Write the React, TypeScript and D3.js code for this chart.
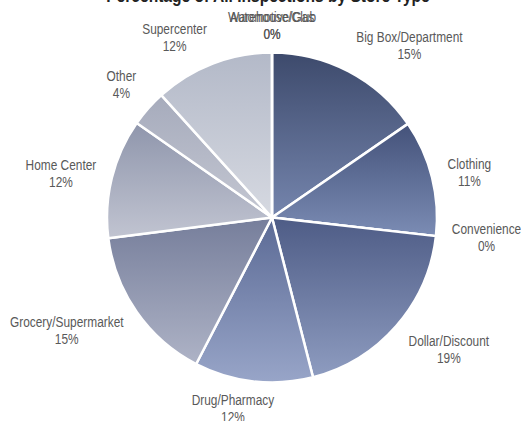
import React, { useMemo } from "react";
import * as d3 from "d3";

const title = "Percentage of All Inspections by Store Type";
const categories = [
  "Automotive/Gas",
  "Big Box/Department",
  "Clothing",
  "Convenience",
  "Dollar/Discount",
  "Drug/Pharmacy",
  "Grocery/Supermarket",
  "Home Center",
  "Other",
  "Supercenter",
  "Warehouse/Club",
];
const values = [0, 15.4, 11.4, 0, 19.2, 11.6, 15.4, 11.7, 3.6, 11.7, 0];
const topColors = ["#3d4a6c", "#3d4a6c", "#44527a", "#4b5a83", "#4e5c86", "#5b6a95", "#767e9b", "#8f96ac", "#a6abbc", "#b3b9c8", "#b3b9c8"];
const bottomColors = ["#7585ad", "#7585ad", "#7b8cb4", "#8494ba", "#8e9cc0", "#98a5c8", "#aeb3c6", "#c1c4d1", "#c4c7d2", "#d6d9e1", "#d6d9e1"];

const W = 521;
const H = 421;
const FONT = "'Liberation Sans', Arial, sans-serif";
const NARROW = 0.82;

function measure(text: string, size: number, weight = "normal"): number {
  const c = document.createElement("canvas").getContext("2d");
  if (!c) return text.length * size * 0.5 * NARROW;
  c.font = `${weight} ${size}px ${FONT}`;
  return c.measureText(text).width * NARROW;
}

export default function App() {
  const cx = 272;
  const cy = 217.5;
  const r = 165;
  const total = d3.sum(values);
  const pie = d3.pie<number>().sort(null).value((d) => d);
  const arcs = pie(values);
  const arc = d3.arc<d3.PieArcDatum<number>>().innerRadius(0).outerRadius(r);
  const fontSize = 14.5;
  const lineH = 17;

  const labels = useMemo(
    () =>
      arcs.map((a, i) => {
        const mid = (a.startAngle + a.endAngle) / 2;
        const s = Math.sin(mid);
        const c = Math.cos(mid);
        const ax = s * (r + 16);
        const ay = -c * (r + 10);
        const pct = `${Math.round((values[i] / total) * 100)}%`;
        const w = Math.max(measure(categories[i], fontSize), measure(pct, fontSize));
        const h = lineH * 2;
        const fx = Math.max(-1, Math.min(1, s * 4));
        const fy = -Math.sign(c) * Math.min(1, c * c * 2.3);
        return {
          x: ax + (fx * w) / 2,
          y: ay + (fy * h) / 2,
          name: categories[i],
          pct,
        };
      }),
    []
  );

  return (
    <svg
      width={W}
      height={H}
      style={{ position: "absolute", left: 0, top: 0, background: "#fff" }}
    >
      <defs>
        {values.map((_, i) => (
          <linearGradient key={i} id={`g${i}`} x1="0" y1="0" x2="0" y2="1">
            <stop offset="0%" stopColor={topColors[i]} />
            <stop offset="100%" stopColor={bottomColors[i]} />
          </linearGradient>
        ))}
      </defs>
      <g transform={`translate(268,2) scale(${NARROW},1)`}>
        <text
          x={0}
          y={0}
          textAnchor="middle"
          fontFamily={FONT}
          fontWeight="bold"
          fontSize={19}
          fill="#222"
        >
          {title}
        </text>
      </g>
      <g transform={`translate(${cx},${cy})`}>
        {arcs.map((a, i) => (
          <path
            key={i}
            d={arc(a) || ""}
            fill={`url(#g${i})`}
            stroke="#fff"
            strokeWidth={2.5}
            strokeLinejoin="round"
          />
        ))}
        {labels.map((l, i) => (
          <g key={i} transform={`translate(${l.x},${l.y}) scale(${NARROW},1)`}>
            <text
              x={0}
              y={0}
              textAnchor="middle"
              fontFamily={FONT}
              fontSize={fontSize}
              fill="#595959"
            >
              <tspan x={0} dy={-lineH / 2 + 5}>
                {l.name}
              </tspan>
              <tspan x={0} dy={lineH}>
                {l.pct}
              </tspan>
            </text>
          </g>
        ))}
      </g>
    </svg>
  );
}
